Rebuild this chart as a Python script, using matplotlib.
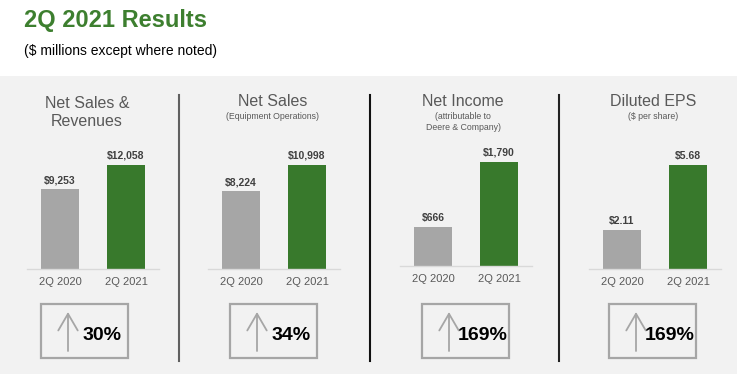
import matplotlib
matplotlib.use("Agg")
import matplotlib.pyplot as plt
from matplotlib.patches import Rectangle, FancyArrowPatch
from matplotlib.lines import Line2D

plt.rcParams['font.family'] = ['Liberation Sans', 'DejaVu Sans']

# data
periods = ["2Q 2020", "2Q 2021"]
metric_titles = ["Net Sales &\nRevenues", "Net Sales", "Net Income", "Diluted EPS"]
metric_notes = ["", "(Equipment Operations)", "(attributable to\nDeere & Company)", "($ per share)"]
net_sales_revenues = [9253, 12058]
net_sales_equipment = [8224, 10998]
net_income = [666, 1790]
diluted_eps = [2.11, 5.68]
value_formats = ["${:,.0f}", "${:,.0f}", "${:,.0f}", "${:.2f}"]
pct_change = ["30%", "34%", "169%", "169%"]

GREEN = "#38792c"
GREY_BAR = "#a6a6a6"
BG = "#f2f2f2"

W, H = 737, 374
fig = plt.figure(figsize=(W / 100, H / 100), dpi=100)
fig.patch.set_facecolor("white")


def fx(px):
    return px / W


def fy(py):
    return 1 - py / H


# grey band behind the panels
fig.add_artist(Rectangle((0, 0), 1, fy(76), transform=fig.transFigure,
                         facecolor=BG, edgecolor="none", zorder=0))

fig.text(fx(24), fy(21), "2Q 2021 Results", color="#3d7f2f", fontsize=17,
         fontweight="bold", va="center", ha="left")
fig.text(fx(24), fy(51), "($ millions except where noted)", color="black",
         fontsize=10, va="center", ha="left")

series = [net_sales_revenues, net_sales_equipment, net_income, diluted_eps]
ax_left = [27, 208, 400, 589]
ax_base = [269, 269, 266, 269]
title_x = [87, 273, 463, 653]
box_left = [41, 230, 422, 609]

for i, vals in enumerate(series):
    ax = fig.add_axes([fx(ax_left[i]), fy(ax_base[i]), 132 / W, 130 / H])
    ax.patch.set_alpha(0)
    ax.bar([0, 1], vals, width=0.58, color=[GREY_BAR, GREEN])
    ax.set_xlim(-0.5, 1.5)
    ax.set_ylim(0, max(vals) * 1.25)
    for j, v in enumerate(vals):
        ax.annotate(value_formats[i].format(v), (j, v), xytext=(0, 3),
                    textcoords="offset points", ha="center", va="bottom",
                    fontsize=7.5, fontweight="bold", color="#404040")
    ax.set_xticks([0, 1], periods)
    ax.tick_params(axis="x", length=0, pad=6, labelsize=8, labelcolor="#595959")
    ax.set_yticks([])
    for s in ["top", "left", "right"]:
        ax.spines[s].set_visible(False)
    ax.spines["bottom"].set_color("#d9d9d9")
    ax.spines["bottom"].set_linewidth(1)

    # titles
    if "\n" in metric_titles[i]:
        fig.text(fx(title_x[i]), fy(112), metric_titles[i], ha="center", va="center",
                 fontsize=11.5, color="#595959", linespacing=1.25)
    else:
        fig.text(fx(title_x[i]), fy(102), metric_titles[i], ha="center", va="center",
                 fontsize=11.5, color="#595959")
        fig.text(fx(title_x[i]), fy(112), metric_notes[i], ha="center", va="top",
                 fontsize=6.3, color="#595959", linespacing=1.35)

    # change box
    bx = box_left[i]
    fig.add_artist(Rectangle((fx(bx), fy(358)), 87 / W, 54 / H,
                             transform=fig.transFigure, facecolor=BG,
                             edgecolor="#a6a6a6", linewidth=1.6))
    fig.add_artist(FancyArrowPatch((fx(bx + 27), fy(351)), (fx(bx + 27), fy(312)),
                                   transform=fig.transFigure,
                                   arrowstyle="->,head_length=0.6,head_width=0.35",
                                   mutation_scale=20, color="#a6a6a6", linewidth=1.3,
                                   shrinkA=0, shrinkB=0))
    fig.text(fx(bx + 61), fy(336), pct_change[i], ha="center", va="center",
             fontsize=14, fontweight="bold", color="black")

# separators between panels
for x, c in [(179, "#606060"), (370, "#111111"), (559, "#222222")]:
    fig.add_artist(Line2D([fx(x), fx(x)], [fy(95), fy(361)], transform=fig.transFigure,
                          color=c, linewidth=1.5))

fig.savefig("out.png", dpi=100, facecolor=fig.get_facecolor())
